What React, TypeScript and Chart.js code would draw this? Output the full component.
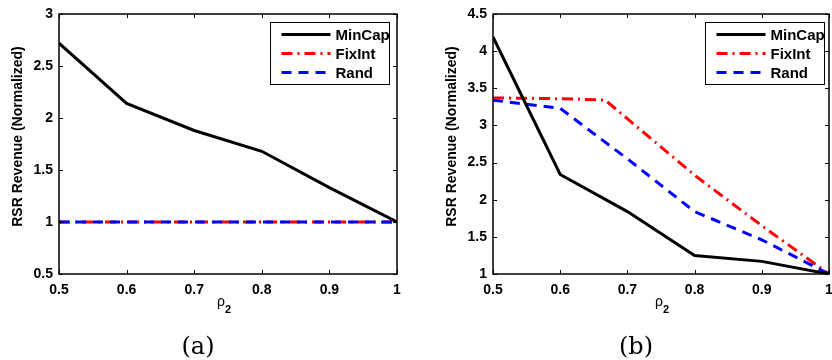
import React, { useEffect, useRef } from "react";
import { Chart, registerables } from "chart.js";
Chart.register(...registerables);

// ---------- data ----------
const seriesNames = ["MinCap", "FixInt", "Rand"];
const xValues = [0.5, 0.6, 0.7, 0.8, 0.9, 1.0];
const xTicks = [0.5, 0.6, 0.7, 0.8, 0.9, 1];
const xTitleMain = "ρ";
const xTitleSub = "2";
const yTitle = "RSR Revenue (Normalized)";

// panel (a)
const aMinCap = [2.72, 2.14, 1.88, 1.68, 1.33, 1.0];
const aFixInt = [1, 1, 1, 1, 1, 1];
const aRand = [1, 1, 1, 1, 1, 1];
const aYTicks = [0.5, 1, 1.5, 2, 2.5, 3];

// panel (b)
const bMinCap = [4.19, 2.34, 1.84, 1.25, 1.17, 1.0];
const bFixIntX = [0.5, 0.6, 0.667, 0.8, 0.9, 1.0];
const bFixInt = [3.37, 3.36, 3.34, 2.33, 1.65, 1.0];
const bRand = [3.34, 3.23, 2.55, 1.84, 1.46, 1.0];
const bYTicks = [1, 1.5, 2, 2.5, 3, 3.5, 4, 4.5];

const FONT = "'Liberation Sans', Arial, Helvetica, sans-serif";

const pts = (xs: number[], ys: number[]) => xs.map((x, i) => ({ x, y: ys[i] }));

function makeDatasets(minX: number[], minY: number[], fixX: number[], fixY: number[], randX: number[], randY: number[]) {
  return [
    {
      label: seriesNames[0],
      data: pts(minX, minY),
      borderColor: "#000000",
      borderWidth: 3,
      borderDash: [],
      order: 0,
    },
    {
      label: seriesNames[1],
      data: pts(fixX, fixY),
      borderColor: "#ff0000",
      borderWidth: 3,
      borderDash: [11, 5, 2, 5],
      order: 2,
    },
    {
      label: seriesNames[2],
      data: pts(randX, randY),
      borderColor: "#0000ff",
      borderWidth: 3,
      borderDash: [10, 7],
      order: 1,
    },
  ].map((d) => ({
    ...d,
    pointRadius: 0,
    tension: 0,
    fill: false,
    borderCapStyle: "butt" as const,
    borderJoinStyle: "miter" as const,
  }));
}

type PanelProps = {
  left: number;
  width: number;
  padRight: number;
  datasets: any[];
  yMin: number;
  yMax: number;
  yTicks: number[];
  legendRight: number;
  caption: string;
  captionX: number;
  xLabelX: number;
};

const boxPlugin = {
  id: "matlabBox",
  afterDraw(chart: any, _args: any, opts: any) {
    const { ctx, chartArea: a } = chart;
    const xs = chart.scales.x;
    const ys = chart.scales.y;
    ctx.save();
    // inward ticks
    ctx.strokeStyle = "#000";
    ctx.lineWidth = 1;
    const tl = 4;
    xs.ticks.forEach((t: any) => {
      const px = Math.round(xs.getPixelForValue(t.value)) + 0.5;
      ctx.beginPath();
      ctx.moveTo(px, a.bottom);
      ctx.lineTo(px, a.bottom - tl);
      ctx.moveTo(px, a.top);
      ctx.lineTo(px, a.top + tl);
      ctx.stroke();
    });
    ys.ticks.forEach((t: any) => {
      const py = Math.round(ys.getPixelForValue(t.value)) + 0.5;
      ctx.beginPath();
      ctx.moveTo(a.left, py);
      ctx.lineTo(a.left + tl, py);
      ctx.moveTo(a.right, py);
      ctx.lineTo(a.right - tl, py);
      ctx.stroke();
    });
    // box
    ctx.lineWidth = 1.5;
    ctx.strokeRect(a.left, a.top, a.right - a.left, a.bottom - a.top);

    // y-axis title
    ctx.save();
    ctx.translate(a.left - 41, a.top + 122.5);
    ctx.rotate(-Math.PI / 2);
    ctx.fillStyle = "#000";
    ctx.font = `bold 14px ${FONT}`;
    ctx.textAlign = "center";
    ctx.textBaseline = "middle";
    ctx.fillText(yTitle, 0, 0);
    ctx.restore();

    // legend
    const lw = 119, lh = 62;
    const lx = Math.round(a.right - opts.right - lw) + 0.5;
    const ly = Math.round(a.top + 8) + 0.5;
    ctx.fillStyle = "#fff";
    ctx.fillRect(lx, ly, lw, lh);
    ctx.lineWidth = 1;
    ctx.strokeStyle = "#000";
    ctx.strokeRect(lx, ly, lw, lh);
    const dsList = chart.data.datasets;
    dsList.forEach((ds: any, i: number) => {
      const cy = ly + 12 + i * 19;
      ctx.save();
      ctx.strokeStyle = ds.borderColor;
      ctx.lineWidth = ds.borderWidth;
      ctx.setLineDash(ds.borderDash || []);
      ctx.lineCap = "butt";
      ctx.beginPath();
      ctx.moveTo(lx + 11, cy);
      ctx.lineTo(lx + 60, cy);
      ctx.stroke();
      ctx.restore();
      ctx.fillStyle = "#000";
      ctx.font = `bold 15px ${FONT}`;
      ctx.textBaseline = "middle";
      ctx.textAlign = "left";
      ctx.fillText(ds.label, lx + 65, cy + 1);
    });
    ctx.restore();
  },
};

function Panel(p: PanelProps) {
  const ref = useRef<HTMLCanvasElement>(null);
  useEffect(() => {
    if (!ref.current) return;
    const chart = new Chart(ref.current, {
      type: "line",
      data: { datasets: p.datasets },
      options: {
        animation: false,
        responsive: false,
        devicePixelRatio: 1,
        events: [],
        layout: { padding: { top: 14, right: p.padRight, bottom: 6, left: 0 } },
        plugins: {
          legend: { display: false },
          tooltip: { enabled: false },
          matlabBox: { right: p.legendRight },
        } as any,
        scales: {
          x: {
            type: "linear",
            min: 0.5,
            max: 1,
            afterBuildTicks: (s: any) => {
              s.ticks = xTicks.map((v) => ({ value: v }));
            },
            afterFit: (s: any) => {
              s.height = 40;
              s.paddingLeft = 0;
              s.paddingRight = 0;
            },
            grid: { display: false, drawTicks: false },
            border: { display: false },
            ticks: {
              color: "#000",
              padding: 8,
              maxRotation: 0,
              autoSkip: false,
              font: { family: FONT, size: 14, weight: "bold" },
              callback: (v: any) => String(Number(Number(v).toFixed(2))),
            },
            title: { display: false },
          },
          y: {
            type: "linear",
            min: p.yMin,
            max: p.yMax,
            afterBuildTicks: (s: any) => {
              s.ticks = p.yTicks.map((v) => ({ value: v }));
            },
            afterFit: (s: any) => {
              s.width = 59;
              s.paddingTop = 0;
              s.paddingBottom = 0;
            },
            grid: { display: false, drawTicks: false },
            border: { display: false },
            ticks: {
              color: "#000",
              padding: 6,
              autoSkip: false,
              font: { family: FONT, size: 14, weight: "bold" },
              callback: (v: any) => String(Number(Number(v).toFixed(2))),
            },
            title: { display: false },
          },
        },
      },
      plugins: [boxPlugin],
    } as any);
    return () => chart.destroy();
  }, []);
  return (
    <>
      <canvas
        ref={ref}
        width={p.width}
        height={320}
        style={{ position: "absolute", left: p.left, top: 0, width: p.width, height: 320 }}
      />
      <span
        style={{
          position: "absolute",
          left: p.xLabelX - 1,
          top: 293,
          fontFamily: FONT,
          fontSize: 14,
          lineHeight: "16px",
          color: "#000",
          whiteSpace: "nowrap",
        }}
      >
        {xTitleMain}
      </span>
      <span
        style={{
          position: "absolute",
          left: p.xLabelX + 7,
          top: 303,
          fontFamily: FONT,
          fontSize: 11,
          fontWeight: "bold",
          lineHeight: "12px",
          color: "#000",
          whiteSpace: "nowrap",
        }}
      >
        {xTitleSub}
      </span>
      <div
        style={{
          position: "absolute",
          left: p.captionX - 50,
          top: 332,
          width: 100,
          textAlign: "center",
          fontFamily: "'DejaVu Serif', 'Liberation Serif', serif",
          fontSize: 24,
          lineHeight: "28px",
          color: "#000",
        }}
      >
        {p.caption}
      </div>
    </>
  );
}

export default function App() {
  const aSets = makeDatasets(xValues, aMinCap, xValues, aFixInt, xValues, aRand);
  const bSets = makeDatasets(xValues, bMinCap, bFixIntX, bFixInt, xValues, bRand);
  return (
    <div
      style={{
        position: "absolute",
        left: 0,
        top: 0,
        width: 832,
        height: 360,
        overflow: "hidden",
        background: "#fff",
      }}
    >
      <Panel
        left={0}
        width={434}
        padRight={37}
        datasets={aSets}
        yMin={0.5}
        yMax={3}
        yTicks={aYTicks}
        legendRight={8}
        caption="(a)"
        captionX={198}
        xLabelX={218}
      />
      <Panel
        left={434}
        width={398}
        padRight={3}
        datasets={bSets}
        yMin={1}
        yMax={4.5}
        yTicks={bYTicks}
        legendRight={5}
        caption="(b)"
        captionX={636}
        xLabelX={656}
      />
    </div>
  );
}
